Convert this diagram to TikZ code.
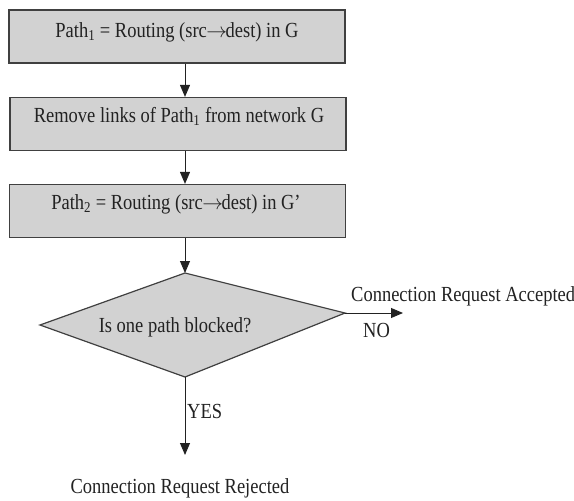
\documentclass[tikz,border=0pt]{standalone}
\usepackage{fontspec}
\setmainfont[FakeStretch=0.86]{Liberation Serif}
\usetikzlibrary{arrows.meta}
\definecolor{boxfill}{HTML}{D2D2D2}
\definecolor{boxline}{HTML}{404040}
\definecolor{inkc}{HTML}{222222}
\newcommand{\srcdest}{src\kern-0.5pt$\rightarrow$\kern-1.5pt dest}
\begin{document}
\begin{tikzpicture}[x=1pt,y=-1pt,
  box/.style={draw=boxline, line width=1.2pt, fill=boxfill, minimum width=336pt, minimum height=53pt, inner sep=0pt, anchor=center},
  dia/.style={draw=boxline, line width=1.2pt, fill=boxfill, line join=miter},
  lbl/.style={font=\fontsize{21.5}{24}\selectfont, inner sep=0pt, text=inkc},
  conn/.style={draw=inkc, line width=0.9pt, -{Triangle[length=12pt,width=10pt]}}]
\useasboundingbox (0,0) rectangle (574,501);
% boxes
\node[box] (b1) at (177,36.5) {};
\node[box] (b2) at (178,124) {};
\node[box] (b3) at (177.5,211) {};
\node[lbl, anchor=base] (t1) at (177,37) {Path\textsubscript{1} = Routing (\srcdest) in G};
\node[lbl, anchor=base] (t2) at (179,122) {Remove links of Path\textsubscript{1} from network G};
\node[lbl, anchor=base] (t3) at (176,209) {Path\textsubscript{2} = Routing (\srcdest) in G’};
% decision
\coordinate (dT) at (185,273);
\coordinate (dR) at (345,313);
\coordinate (dB) at (185,377);
\coordinate (dL) at (40,325);
\path[dia] (dT) -- (dR) -- (dB) -- (dL) -- cycle;
\node[lbl, anchor=base] (q) at (175,332) {Is one path blocked?};
% connectors
\coordinate (ax) at (185,0);
\draw[conn] (b1.south -| ax) -- (b2.north -| ax);
\draw[conn] (b2.south -| ax) -- (b3.north -| ax);
\draw[conn] (b3.south -| ax) -- (dT);
\coordinate (acc) at (403,313);
\draw[conn] (dR) -- (acc);
\coordinate (rej) at (185,455);
\draw[conn] (dB) -- (rej);
% labels
\node[lbl, anchor=base west] (la) at (351,301) {Connection Request Accepted};
\node[lbl, anchor=base west] (no) at (363,337) {NO};
\node[lbl, anchor=base west] (yes) at (187,418) {YES};
\node[lbl, anchor=base] (lr) at (180,493) {Connection Request Rejected};
\end{tikzpicture}
\end{document}
